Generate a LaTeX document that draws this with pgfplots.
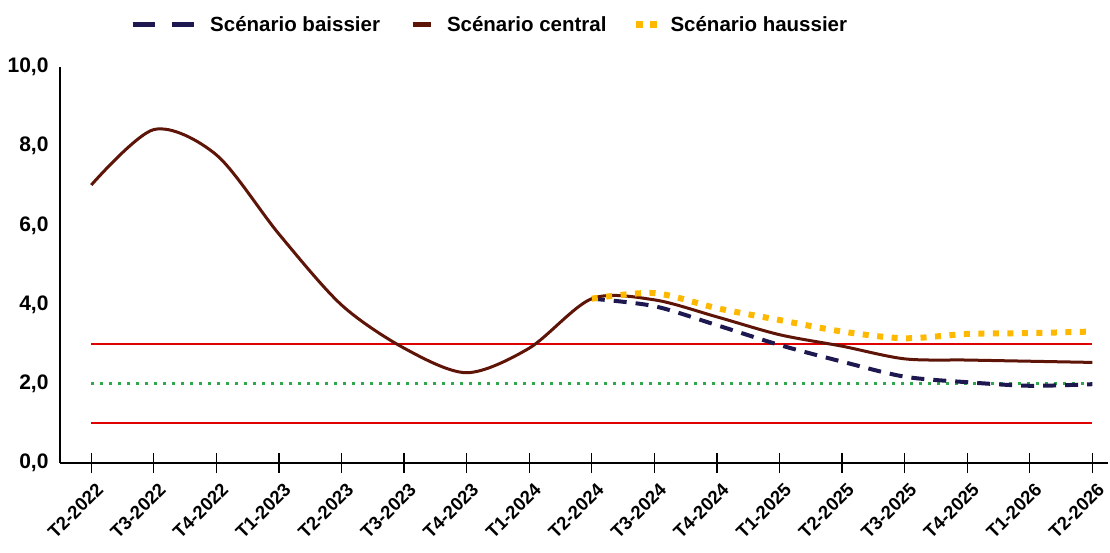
\documentclass[border=0pt]{standalone}
\usepackage{fontspec}
\setmainfont{Liberation Sans}
\usepackage{pgfplots}
\pgfplotsset{compat=1.18}
\definecolor{navy}{HTML}{1E1850}
\definecolor{brun}{HTML}{5E1508}
\definecolor{jaune}{HTML}{FFB800}
\definecolor{rouge}{HTML}{E00000}
\definecolor{vert}{HTML}{2EA84A}
\begin{document}
\begin{tikzpicture}
\begin{axis}[
  scale only axis,
  width=1048pt, height=396pt,
  xmin=-0.5, xmax=16.25,
  ymin=0, ymax=10,
  axis lines=left,
  axis line style={-, line width=1.6pt, black},
  ytick={0,2,4,6,8,10},
  yticklabels={{0,0},{2,0},{4,0},{6,0},{8,0},{10,0}},
  ytick style={draw=none},
  xtick={0,...,16},
  xticklabels={T2-2022,T3-2022,T4-2022,T1-2023,T2-2023,T3-2023,T4-2023,T1-2024,T2-2024,T3-2024,T4-2024,T1-2025,T2-2025,T3-2025,T4-2025,T1-2026,T2-2026},
  xtick style={line width=1.3pt, black},
  major tick length=20pt,
  tick align=center,
  yticklabel style={font=\fontsize{21}{24}\selectfont\bfseries, xshift=2pt},
  xticklabel style={font=\fontsize{18.5}{22}\selectfont\bfseries, xshift=11pt, yshift=-11pt, rotate=45, anchor=east},
  legend columns=3,
  legend style={draw=none, at={(0.41,1)}, anchor=south, yshift=30pt,
    font=\fontsize{20.5}{23}\selectfont\bfseries,
    /tikz/every odd column/.append style={column sep=12pt},
    /tikz/every even column/.append style={column sep=28pt}},
  clip=false,
  unbounded coords=jump,
]
\coordinate (O) at (rel axis cs:0,0);
\addplot[draw=rouge, color=rouge, line width=2pt, forget plot] coordinates {(0,3) (16,3) (16,inf) (0,1) (16,1)};
\addplot[draw=vert, line width=3pt, dash pattern=on 3pt off 6pt, forget plot] coordinates {(0,2) (16,2)};

\addplot[navy, line width=4pt, dash pattern=on 13pt off 9pt, smooth,
  legend image code/.code={\draw[navy, solid, line width=5pt] (0pt,0pt) -- (22pt,0pt); \draw[navy, solid, line width=5pt] (39pt,0pt) -- (61pt,0pt);}] coordinates {
(8,4.15) (9,3.96) (10,3.48) (11,2.98) (12,2.56) (13,2.18) (14,2.04) (15,1.95) (16,1.99)};
\addlegendentry{Scénario baissier}
\addplot[brun, line width=3pt, smooth,
  legend image code/.code={\draw[brun, solid, line width=5pt] (0pt,0pt) -- (18pt,0pt);}] coordinates {
(0,7.02) (1,8.42) (2,7.78) (3,5.78) (4,3.99) (5,2.90) (6,2.28) (7,2.90) (8,4.15) (9,4.12) (10,3.69) (11,3.24) (12,2.95) (13,2.63) (14,2.60) (15,2.57) (16,2.54)};
\addlegendentry{Scénario central}
\addplot[jaune, line width=6pt, dash pattern=on 6pt off 8.5pt, smooth,
  legend image code/.code={\fill[jaune, solid, line width=0pt] (0pt,-3pt) rectangle (6pt,3pt); \fill[jaune, solid, line width=0pt] (14pt,-3pt) rectangle (20pt,3pt);}] coordinates {
(8,4.15) (9,4.29) (10,3.91) (11,3.61) (12,3.32) (13,3.15) (14,3.26) (15,3.28) (16,3.32)};
\addlegendentry{Scénario haussier}
\end{axis}
\pgfresetboundingbox
\path[use as bounding box] ([xshift=-60pt,yshift=-89pt]O) rectangle ++(1110pt,552pt);
\end{tikzpicture}
\end{document}
